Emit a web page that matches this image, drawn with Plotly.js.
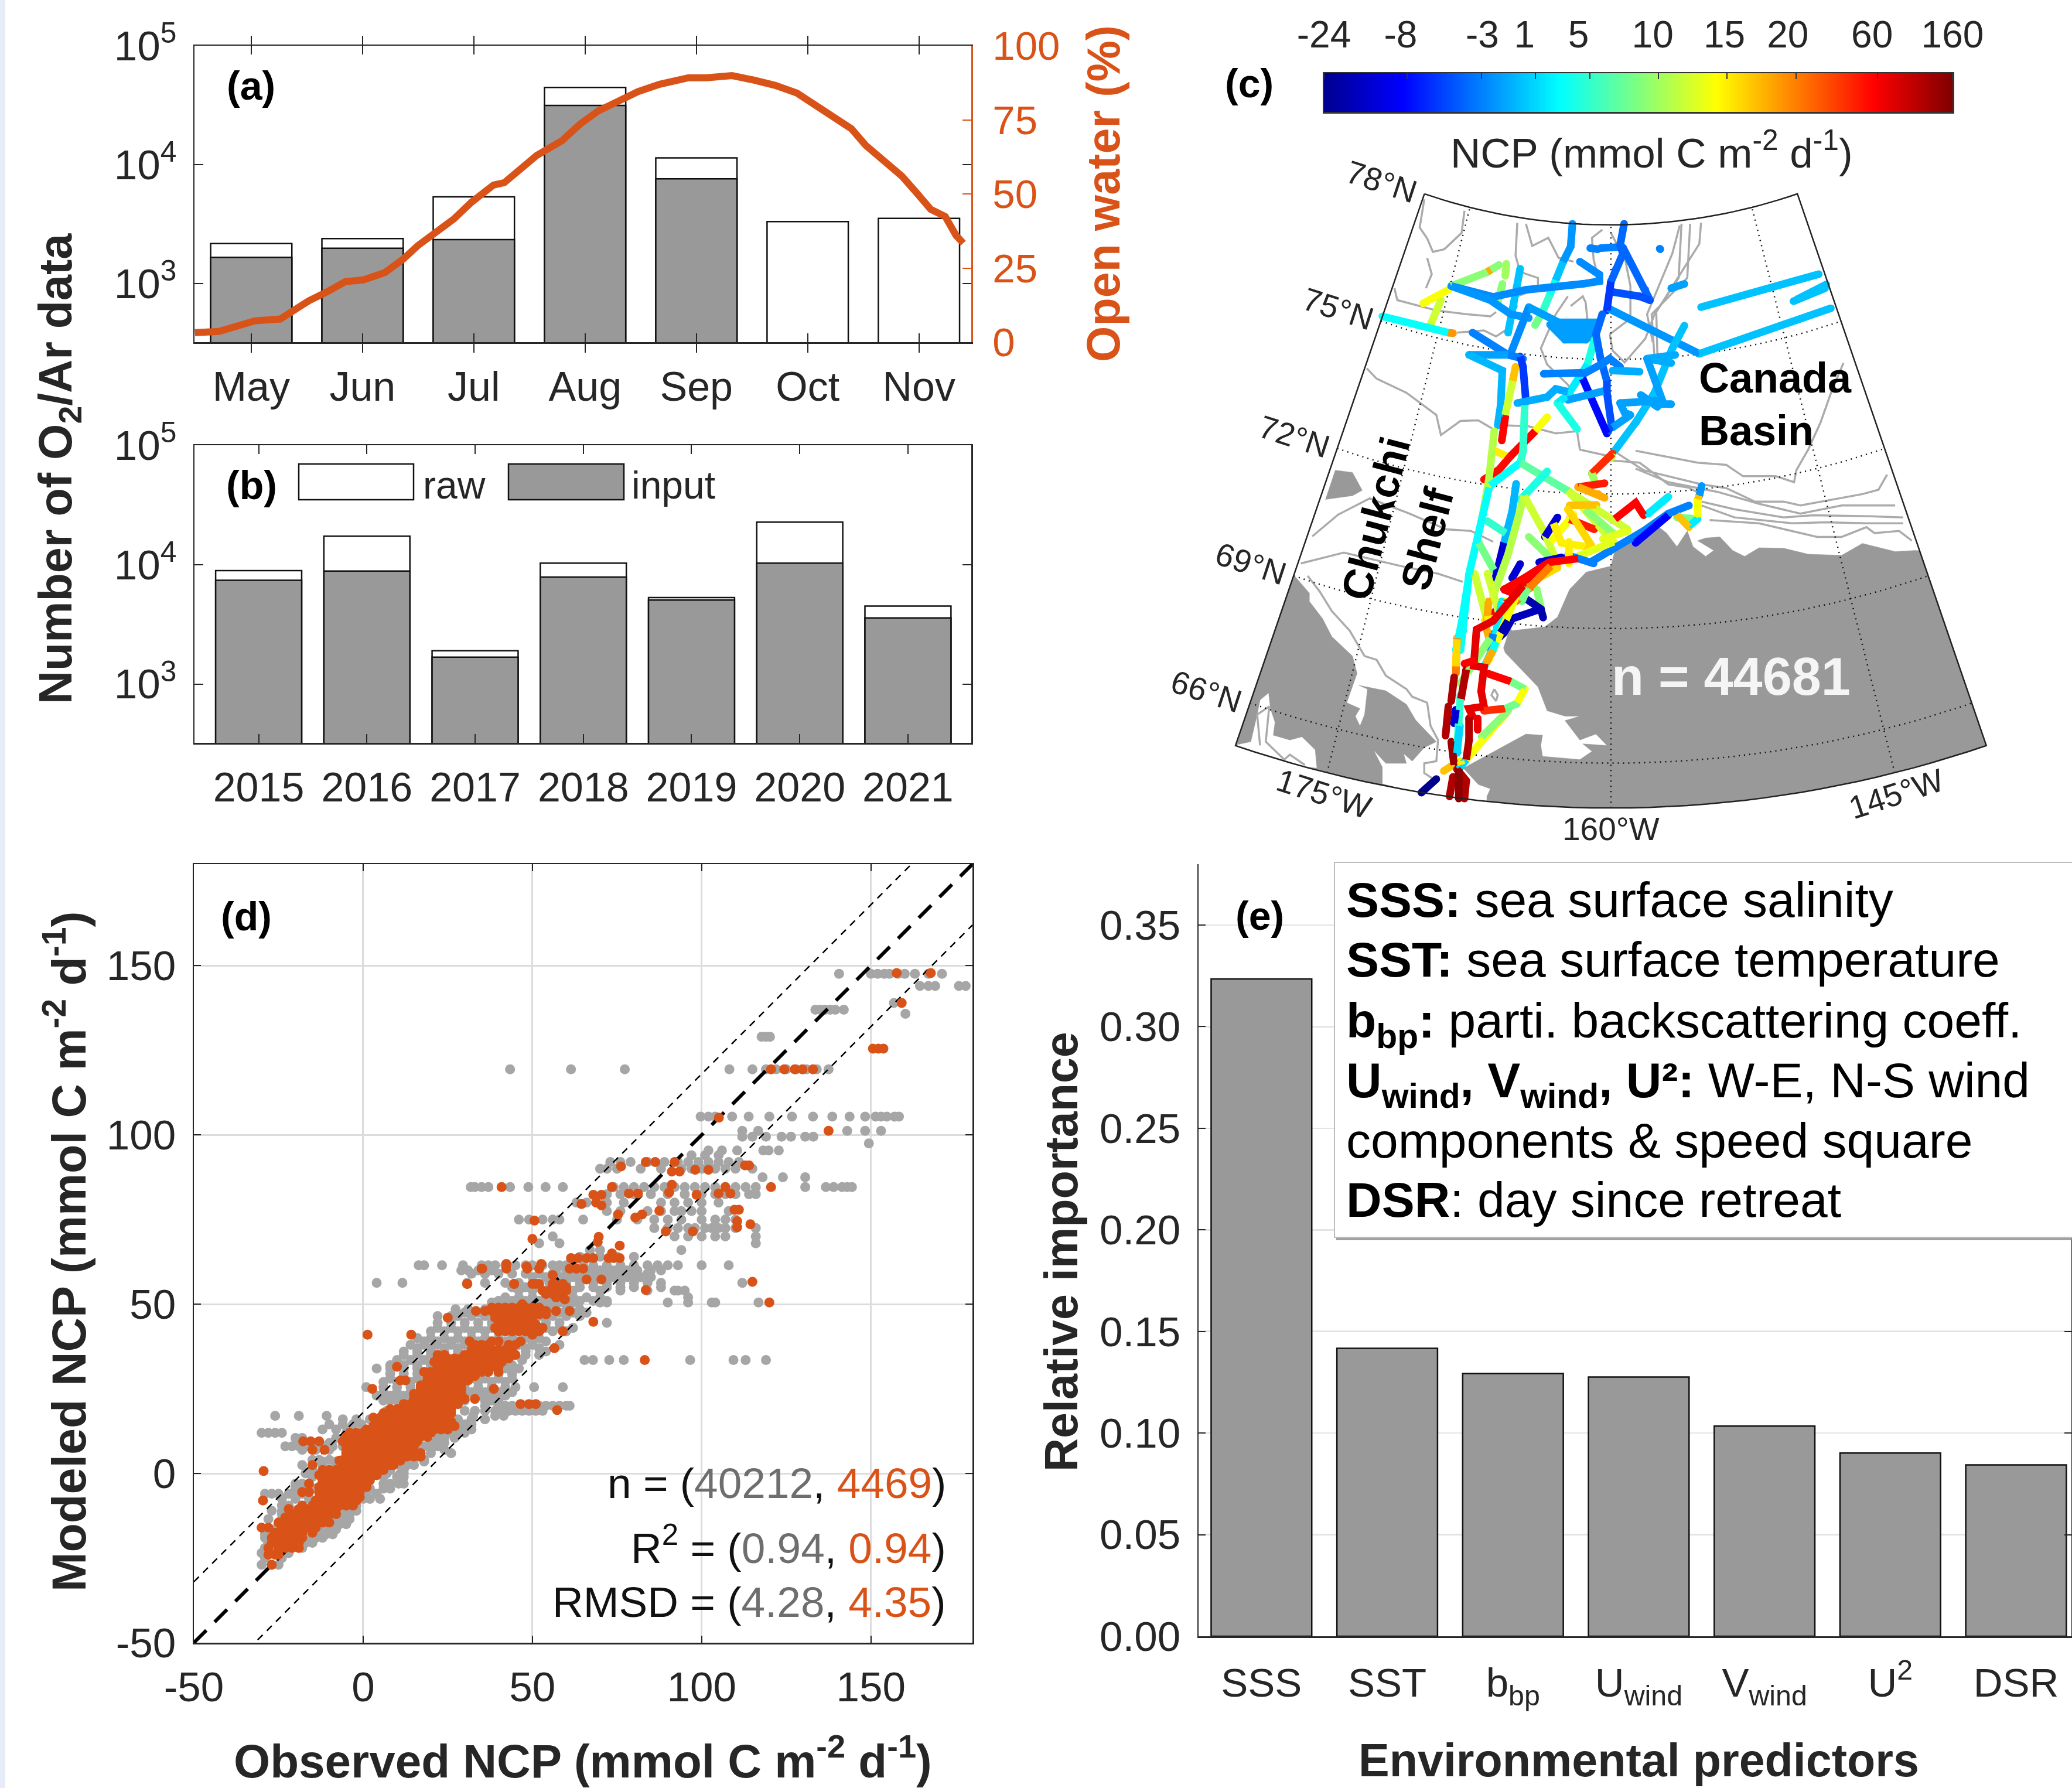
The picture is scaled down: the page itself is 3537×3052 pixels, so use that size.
<!DOCTYPE html>
<html><head><meta charset="utf-8">
<script src="https://cdn.plot.ly/plotly-3.0.1.min.js"></script>
<style>html,body{margin:0;padding:0;background:#fff}</style></head>
<body><div id="chart" style="width:3537px;height:3052px"></div>
<script>
// ---------- panel (a) ----------
const months=['May','Jun','Jul','Aug','Sep','Oct','Nov'];
const monthRaw=[2170,2390,5350,44500,11400,3320,3530];
const monthInput=[1660,1980,2340,31400,7600,null,null];
const openWaterPos=[0.494,0.709,0.871,1.033,1.261,1.39,1.52,1.683,1.845,2.008,2.202,2.365,2.495,2.657,2.819,2.982,3.177,3.274,3.404,3.566,3.794,3.956,4.118,4.281,4.476,4.67,4.93,5.092,5.32,5.515,5.71,5.904,6.067,6.229,6.392,6.521,6.684,6.846,6.976,7.106,7.236,7.333,7.398];
const openWaterPct=[3.2,3.6,5.4,7.2,7.8,11.2,14,17,20.4,21,23.5,28,32.5,37,41.5,47.3,53,53.8,58,63,68,73.6,78,81,84.5,87,89.2,89.2,89.9,88.4,86.6,84,80,76.7,72,66.4,61.4,56,50.5,44.8,42.4,36,33.4];
// ---------- panel (b) ----------
const years=['2015','2016','2017','2018','2019','2020','2021'];
const yearRaw=[8900,17300,1900,10300,5300,22700,4500];
const yearInput=[7400,8830,1680,7870,5050,10300,3580];
// ---------- panel (e) ----------
const predictors=['SSS','SST','b<sub>bp</sub>','U<sub>wind</sub>','V<sub>wind</sub>','U<sup>2</sup>','DSR'];
const importance=[0.3235,0.1417,0.1293,0.1276,0.1034,0.0902,0.0843];
// ---------- panel (d): modeled NCP value, then observed NCP values on that level ----------
const grayRows=[
[147.6,[140.6,150,152,154,155.5,158,160,163,167,171]],[144,[164.5,167,169,176,178]],[139,[156.8]],[135.8,[160.2]],
[137,[133.6,135,136.5,138,139.5,142]],[129,[117.7,119,120.2]],
[119.4,[43.4,61.4,77.3,108.2,115,119,122,125,128,131,134,137.5]],
[105.4,[99.7,102,104,109,113.9,120,126.7,132.9,138.6,143.7,148.3,151.4,153,154.7,157,158.3]],
[101.2,[112,116.7,143,148.3,153]],[99.5,[112,115,119,123.6,126.4,130.6,133]],[97.5,[149.4]],
[95.4,[102,106,110.5,118.2,119.8,122.8]],[94,[97,101,105]],
[92,[73,76,79,84,89,93,96,99,102,105,108,111]],[90,[70,72,75,82,88,94,97,100,104,107,110,115]],
[87.5,[118,124,130.6]],
[84.6,[31.8,33,35,37,43.4,48.8,53.9,59,74,77,80,83,86,89,92,95,98,101,104,107,110,113,116,130.6,136.7,139,141.5,143,144.4]],
[82.5,[72,76,80,85,90,95,100,104,107,110,114,116]],[80,[63,66,72,77,88,92,96,100,105]],
[77.5,[72,76,84,88,92,94,97,100,108]],[75,[46,49,53,56,58,65,75,81,86,90,94,100,104,107,110]],
[72.5,[86,90,93,96,98,101,103,105,107,110,116]],[70,[56,92,96,100,104,107,116]],[68,[52,58,116]],[66,[67,70,94]],
[64,[64,67,70,75,80]],
[61.5,[16.4,18,23.3,29.5,35,37,39,42,45,48,50,53,56,58,60,62,65,68,72,76,80,84,87,90,93,100,108]],
[60,[29,31,34,38,57,60,63,66,70,74,78,81,85,88]],[58,[50,54,58,62,66,70,74,78,82,85]],
[56.3,[4,11.6,30.7,36,42,46,55,60,64,68,72,76,80,84,88,112]],[54,[46,50,54,58,62,70,76,84,92,93,95]],
[52,[42,46,50,54,58,62,66,70,96]],[50.5,[38,42,46,50,54,58,62,70,72,90,96,103,104,116.8]],
[48.5,[27.3,31,36,40,44,48,52,56,60,64]],[46.5,[22,26,28,32,36,40,44,48,52,56,60,64]],
[44.5,[22,26,30,34,38,42,46,50,54,58,72]],[42,[20,24,28,32,36,40,44,48,52,56,60]],
[40,[16,20,24,28,32,36,40,44,48,52]],[38,[14,18,22,26,30,34,38,42,46,50,58]],
[36,[12,16,20,24,28,32,36,40,44,48,54]],
[33.5,[10,14,18,22,26,30,34,38,42,47,65.4,67.9,72.7,77,96.6,109.4,113,119]],
[31,[4,8,12,16,20,24,28,32,36,42,46]],[28,[8,12,16,20,24,28,33,36,40,44]],
[25.5,[0.9,6,10,14,18,24,30,34,38,42,45,50.5,59]],[24,[6,10,14,18,26,32,36,40,44]],
[21.5,[6,8,10,12,14,26,30,36,38,40]],[20,[36,40,42,44,46,48,50,52,54,56,58,60,61]],
[18.5,[7,9,11,30,33,36,39,41,43,45,47,49,51,53]],[17,[-26,-19,-10.8,32.5,39,41.5]],
[14.5,[-10,-6,-3,-0.5,28,30,32]],[12,[-30,-28,-26,-24,-5,-2,26,28,30]],[10.5,[-20,-18,-8,-6,22,24,27]],
[8,[-23,-21,-19,-17,-14,-12,-9,-6,18,20,22]],[6,[20,26]],[4,[-15,-13,-10,-6,15,18]],
[2.5,[-18,-15,-12,-8,11,13,15]],[0,[-17,-15,7,11,12]],[-3,[-20,-18,-10,6,8,10.5,12]],
[-6,[-29,-27,-25,-22,-20,-18,1,4]],[-9.5,[-24,-22,-18,-3,-2]],[-12,[-24,-22,-7,-6,-4]],
[-15,[-25,-23,-21,-18,-11,-8,-7,-5]],[-16.5,[-28,-26,-13,-10,-8]],[-19,[-29,-27,-16,-14,-12]],
[-22,[-29,-24,-18]],[-25,[-29,-24]],[-27,[-30,-27,-25]],
[59,[32,36,40,44,48,52,56,60,64,68,72,76,80,84]],[55,[44,48,52,56,60,64,68,72,76,80,88]],
[51,[40,44,48,52,56,60,64,68,72]],[47.5,[30,34,38,42,46,50,54,58,62,66]],
[43,[22,26,30,34,38,42,46,50,54,58,62]],[39,[18,22,26,30,34,38,42,46,50,54]],
[37,[16,20,24,28,32,36,40,44,48,52]],[35,[12,16,20,24,28,32,36,40,44,48,52]],
[32,[8,12,16,20,24,28,32,36,40,44]],[29.5,[8,12,16,20,24,28,32,36,40,44]],[27,[6,10,14,18,22,26,30,34,38,42]],
[23,[4,8,12,30,34,38,42]],[16,[-6,-2,2,28,32,36]],[13,[-12,-8,-4,24,28,32]],[9,[-14,-10,-6,20,24]],
[7,[-18,-14,-10,16,20,24]],[3.5,[-12,-8,14,18]],[1,[-15,-12,8,12]],[-1,[-15,-12,6,10,12]],
[-4.5,[-20,-16,-14,2,6,8]],[-7.5,[-24,-20,-16,0,2,5]],[-11,[-27,-24,-20,-4,-2]],[-13.5,[-28,-24,-20,-16,-8,-6,-4]],
[-18,[-29,-26,-14,-11,-9]],[-20.5,[-28,-26,-17,-15]],[-23.5,[-30,-27,-22]]
];
const orangeRows=[
[-27,[-27]],[-24,[-28,-26,-25]],[-22,[-28,-25,-23,-21,-19]],[-19,[-27,-25,-23,-21,-19,-18]],
[-16,[-30,-28,-24,-22,-20,-18,-16,-14]],[-13,[-23,-21,-19,-15,-13,-11]],[-10.5,[-22,-19,-16,-14,-12,-10,-8]],
[-8,[-29.6,-14,-12,-10,-8,-6,-4,-2]],[-5.5,[-18,-16,-13,-11,-9,-7,-5,-3,-1]],[-3,[-16,-12,-10,-8,-6,-4,-2,0,1]],
[-0.5,[-13,-11,-9,-7,-5,-3,-1,1,3,4]],[0.7,[-29.4]],[2.5,[-15,-6,-4,-2,0,2,4,6,8,9]],
[5,[-5,-3,-1,1,3,5,7,9,11,13,15,17]],[7,[-15,-11.4,-5,-3,-1,1,3,5,7,9,11,13,15]],
[9.5,[-17.7,-15.5,-13,-6,-4,-2,0,2,4,6,8,10,12,14,16]],[12,[-4,-2,0,2,4,6,8,10,12,14,16,18,20]],
[14,[3,5,7,9,11,13,15,17,19,21,23,25,27]],[16.5,[3,5,7,9,11,13,15,17,19,21,23,25]],
[19,[8,10,12,14,16,18,20,22,24,26]],[22,[15,17,19,21,23,25,27,28,30,33]],[25,[2.7,17,19,21,23,25,27,29,38.6]],
[27.5,[11,12.5,19,21,23,25,27,29,31]],[30,[18,20,23,25,27,29,31,33,35,37,40]],[31.5,[10]],
[33,[21,23,25,27,29,31,33,35,37,39,41]],[35,[22,24,30,32,34,36,38,40,42,44,45]],[37,[44,56.5]],
[39,[31.5,38,40,46.5]],[41,[1.3,14.2,50]],[42,[40,42,44,46,48,50,52,59]],[44,[41,43,45,47,49,51]],
[46,[25,39,41,43,45,47,49]],[48,[33.3,36,38,40,42,44,46,48,50,52,54,57,61]],[50,[47]],[52,[57,59]],
[54,[53,55,58,60]],[56,[30.8,44.6,50,52,56,59,30.7,44.6,51,56.5]],[57.3,[70.4,66]],[58.6,[56]],
[60.5,[35,42.3,48.5,52,61,63,65,35.2]],[61.9,[42.3,52.6]],[61.1,[48.3]],[63.6,[61.4,63.5,66,68,74,75.8,72.5]],
[51.4,[59.6]],[54.2,[83.5]],[56.6,[115]],[50.5,[120]],[44.8,[68]],[33.5,[83.2]],[18.7,[57.3]],[20.5,[46.5,49,51]],
[65,[73.5]],[67.3,[75.8]],[68.4,[69.3]],[69.9,[69.6]],[69.3,[50]],[71.5,[97.4,89.4]],[74.7,[50.6]],
[72.7,[110.5]],[73.6,[114.4]],[74.5,[110.5]],[77.9,[109.7,111]],[77.6,[87.5]],[76.5,[75.3,82.4]],[75.6,[80.4]],
[79.6,[64.5]],[79.2,[70.4]],[80,[68.8]],[82.3,[68,70.4,98.5]],[82.7,[78.5,81.2,105,108.5]],[83,[90.4]],
[84.6,[40.9,73.5,107,120.5]],[85.3,[91.2]],[89.2,[91.2,93.5]],[89.7,[98.1,102]],[90.7,[76.2]],[91,[112.8,114]],
[92,[83.5,86.3,92]],[101.2,[137.5]],[105.1,[105.1]],[119.4,[120.5,124.4,127.5,129.8,132.9]],
[125.5,[150.6,152.2,153.7]],[139,[159.1]],[147.8,[157.6,167.7]],
[-20.5,[-27,-25,-23,-21,-19]],[-17.5,[-26,-24,-22,-20,-18,-15]],[-14.5,[-25,-23,-21,-19,-17,-14,-12,-10]],
[-12,[-20,-18,-16,-14,-12,-10,-8]],[-9.5,[-18,-15,-13,-11,-9,-7,-5,-3]],[-7,[-13,-11,-9,-7,-5,-3,-1]],
[-4,[-13,-11,-9,-7,-5,-3,-1,1]],[-2,[-12,-10,-8,-6,-4,-2,0,2]],[1,[-12,-10,-8,-6,-4,-2,0,2,4,6]],
[3.8,[-7,-5,-3,-1,1,3,5,7,9,11]],[6,[-5,-3,-1,1,3,5,7,9,11,13,15,17]],[8.2,[-5,-3,-1,1,3,5,7,9,11,13,15]],
[10.8,[-5,-3,-1,1,3,5,7,9,11,13,15,17,19]],[13,[1,3,5,7,9,11,13,15,17,19,21,23,25]],
[15.3,[4,6,8,10,12,14,16,18,20,22,24,26]],[17.8,[6,8,10,12,14,16,18,20,22,24,26]],
[20.5,[12,14,16,18,20,22,24,26,28]],[23.5,[15,17,19,21,23,25,27,29]],[26,[17,19,21,23,25,27,29]],
[28.8,[19,21,23,25,27,29,31,33]],[31.5,[22,24,26,28,30,32,34,36,38,40]],[34,[23,25,27,29,31,33,35,37,39,41,43]],
[36.5,[32,34,36,38,40,42,44]],[38,[33,35,37,43,45]],[43,[39,41,43,45,47,49,51,53]],[45,[40,42,44,46,48,50]],
[47,[40,42,44,46,48,50,52,54]],[49,[38,40,42,44,46,48,50,52]],[53,[54,56,58]],[55,[56,58,60]]
];
const statRows=[['n = (','40212','4469',')'],['R<sup>2</sup> = (','0.94','0.94',')'],['RMSD = (','4.28','4.35',')']];
const axisTicksD=[-50,0,50,100,150];
const axisTextD=['-50','0','50','100','150'];
// ---------- panel (c): colour bar ----------
const ncpTicks=[-24,-8,-3,1,5,10,15,20,60,160];
const ncpTickFrac=[0,0.132,0.251,0.336,0.423,0.532,0.641,0.751,0.881,1];
const ncpLabelFrac=[0,0.122,0.252,0.319,0.405,0.523,0.637,0.738,0.872,1];
// Map plane coordinates (units of the map axes).
const alaskaCoast=[1296,1016,1260,1018,1203,1003,1167,1025,1109,1023,1066,1012,1023,1011,998,1027,977,1016,955,991,930,993,916,998,944,1016,930,1027,908,1009,898,980,880,1009,862,984,844,969,830,987,772,1016,765,1045,722,1056,693,1088,672,1139,650,1157,593,1164,589,1160,578,1196,581,1205,638,1268,654,1312,685,1322,711,1322,685,1330,711,1366,739,1355,758,1376,716,1373,732,1387,711,1402,646,1396,643,1376,646,1357,617,1355,586,1373,550,1394,508,1418,534,1448,555,1456,549,1470];
const siberiaCoast=[112,1375,138,1369,149,1319,154,1292,169,1279,172,1308,180,1333,177,1357,206,1366,227,1360,250,1384,253,1418];
const siberiaCoast2=[367,1447,367,1416,352,1385,373,1409,409,1409,404,1391,419,1405,440,1380,461,1369,425,1329,409,1300,373,1275,326,1265,341,1272,336,1319,328,1340,320,1322,328,1308,305,1297,308,1288,323,1243,315,1211,279,1175,263,1142,240,1110,240,1095,214,1063];
const wrangel=[268,922,285,868,315,872,332,905,315,915,268,922];
const isobaths=[
[440,368,432,420,445,440,455,465,475,460,505,430,510,389],[445,476,453,506,443,532],
[388,532,393,554,461,573,513,580,555,584,565,576],[497,614,544,610,565,621,581,610],
[602,411,599,472,607,502,638,513,638,532,602,547],[617,413,628,454,656,439,674,476,700,483],
[690,547,674,573,669,580,643,643,654,673,690,710,700,730],[695,565,716,547,721,558,725,600],
[750,424,732,439,735,480,745,520],[763,617,799,588,799,528,790,480,765,430],
[763,617,768,647,789,669,825,625,841,580,883,513,888,413],[841,662,836,580,898,513,903,413],
[846,655,844,576,919,450,922,411],[838,632,828,580,872,468,885,416],
[765,829,822,868,923,894,966,901,1016,926,1066,926,1095,933,1203,912,1231,904,1246,876],
[808,832,916,854,966,858,995,879,1052,879,1084,890,1088,868,1109,829,1130,780,1150,720,1170,670],
[765,850,815,854,865,894,900,900,925,914],[808,865,865,890,951,908,1023,930,1095,948,1167,933,1260,933],
[923,926,980,940,1066,955,1117,951,1217,953,1274,955],[923,933,980,955,1081,966,1138,964,1210,966,1274,966],
[937,960,1023,966,1124,991,1167,991,1210,973,1224,984,1267,980,1289,998],
[340,680,357,699,409,725,461,766,469,803,503,777,534,776,560,792,581,785,622,787,669,800,706,796,711,830,758,841],
[245,990,290,950,345,920,414,948,478,977,521,980,560,1000],[225,1040,300,1020,400,1045,464,1059,507,1074],
[237,1063,258,1092,279,1128,310,1164,336,1211,357,1218,373,1247,409,1272,419,1286,445,1297,451,1340,464,1366,461,1405,440,1409,440,1427,456,1438],
[154,1376,149,1319,170,1304,164,1369,196,1402,206,1393,232,1412],[562,1272,557,1283,565,1294,568,1283,562,1272]
];
// each track: NCP value, then map-plane x,y vertices
const tracks=[
[8,646,576,633,600],[5,659,543,646,576],[3,669,517,659,543],[0,682,483,669,517],[-2,698,413,695,455,682,483],
[-3,729,458,742,460],[-3,747,458,778,456],[-3,850,459,851,460],
[-4,786,457,825,535,833,554],[-5,768,539,815,547,833,554],
[9,570,489,550,502,487,528],[18,556,498,550,502],[10,583,487,581,509],[9,576,524,568,558],
[14,482,535,438,560],[12,469,554,451,599],[3,367,584,482,614],[19,482,614,490,615],
[0,607,496,596,565,586,614],
[-2.5,711,483,745,507,745,519,716,524,617,535,560,548,487,528],
[-2,487,528,555,554,591,580,622,587],[-2.5,622,567,591,651],
[-1.6,622,567,674,595,742,595,721,627,685,627,659,599],[-1.6,674,600,740,602,678,610,735,612,682,620,725,624],
[-2,760,569,919,653],[0,919,653,1148,569],[0,922,567,1127,506],[0,1083,556,1138,532],[0,1090,552,1140,525],[-1.5,870,532,893,524],
[-4,788,413,781,453,786,468,773,498,765,520],[-6,765,520,758,573],
[4,737,625,724,673],[2,724,673,690,729,672,744],[4,672,744,706,792],
[-4,750,580,739,617,747,662,758,703],[-5,758,703,758,725,766,785,758,800],
[-3,648,690,721,688,747,673,763,662,781,677],[-1,768,684,815,686],
[-3,524,614,586,655,612,662],[-1.5,518,655,586,655],[-0.5,518,655,576,684,573,748,568,785],
[-8,716,699,758,800],[-6,607,658,612,677,617,740],[17,599,677,594,703],[12,594,703,581,766],[58,581,770,575,813],
[-1,602,744,654,733,669,718,690,723],[-1.5,690,738,752,722],
[0,893,601,872,643,841,725,810,777,773,830],[-1,877,655,828,662,870,670],[-1.5,828,662,857,746,870,746],
[-1.5,817,729,846,751],[-1.5,781,744,844,740],[-1.5,781,744,789,762,799,766,768,789],
[14,654,770,633,796],[58,633,796,591,841],[55,591,841,570,867,544,885],[15,565,833,581,841],
[11,562,796,557,841,552,889,540,960],[5,615,748,612,833,607,856],[3,607,854,555,896],
[7,607,854,693,908],[12,693,908,794,977],[4,654,870,607,923],
[3,553,900,540,960,520,1050,505,1150,495,1200],[-0.5,600,893,593,944,579,1002],[-15,579,1002,564,1067],
[11,768,837,766,845],[45,768,837,732,874],[10,732,874,737,889],
[11,614,915,586,1023,560,1100],[12,614,915,650,985,672,1040],[9,622,991,657,1027],[5,550,962,582,984],[8,535,1002,561,1052],
[12,690,905,760,990],[14,660,1000,700,950],[9,720,940,770,985],
[50,708,899,754,892],[18,708,899,743,912,754,919],[17,693,933,740,932],[50,693,958,736,977],[58,772,958,808,928,822,951],
[-15,650,991,672,955],[15,665,966,679,1002,722,1009],[13,751,995,794,980],[16,690,940,730,1005,722,1020],
[2,865,917,830,948],[-3,729,1038,765,1016,822,980,865,948,901,933],[-9,808,1002,865,951],
[8,880,955,916,958],[17,901,973,880,950],[-2,923,897,919,915],[17,919,915,916,922],[14,916,922,916,955],[2,916,958,905,968],
[13,770,1000,700,1030],[-3,690,1025,735,1040],[-15,640,1038,679,1029],[-15,607,1041,593,1067],
[16,672,1048,622,1077],[15,692,1000,692,1040],[9,636,1088,643,1121],
[-20,579,1088,614,1103,643,1124,647,1140],[-18,643,1124,593,1142,579,1168,571,1176],
[58,708,1031,657,1038,614,1067,579,1088,607,1099,571,1121,553,1139],[58,655,1040,610,1075,590,1090,625,1065],[20,660,1045,625,1085,600,1110],
[3,518,1059,508,1164,503,1200],[12,550,1059,565,1110,575,1150],[14,580,1110,552,1220],
[12,528,1059,548,1140],[18,552,1110,548,1160,553,1178],[15,545,1145,570,1140],[2,575,1110,560,1195,545,1230],[14,600,1100,570,1170,560,1200],[8,620,1085,610,1110],[-3,560,1170,555,1200],
[9,555,1178,503,1261],[3,565,1185,555,1210],[18,560,1200,547,1225],[-20,586,1146,573,1168],
[5,503,1283,497,1384],[20,497,1178,495,1243],[16,497,1180,495,1230],[14,513,1402,586,1312],[9,540,1360,586,1312],[1,513,1402,500,1420],
[75,612,1081,586,1113,560,1146,531,1162,529,1204,526,1229,544,1232,539,1276,544,1304,518,1308,524,1322],[58,510,1225,530,1218],
[120,492,1250,487,1294],[120,482,1304,477,1358],[140,487,1369,492,1412],[58,550,1243,591,1258],[8,591,1258,615,1272],
[14,615,1272,602,1297],[8,602,1297,600,1300],[45,544,1312,581,1308],[8,581,1308,598,1300],
[70,533,1326,533,1347],[120,518,1326,518,1366,513,1402],[120,513,1236,504,1290],[-15,495,1310,492,1335],[1,502,1340,497,1390],
[15,503,1405,505,1412],[17,487,1414,474,1423],[-24,461,1438,435,1463],
[120,497,1420,513,1441,510,1474],[120,490,1434,484,1470],[150,500,1420,500,1474]
];
// ---------- helpers ----------
const W=3537,H=3052;
const px=x=>x/W, py=y=>1-y/H;
const BLACK='#262626', ORANGE='#D95319', GREY='#999999', FONT='Liberation Sans, Arial, sans-serif';
const jetStops=[[0,[0,0,143]],[0.125,[0,0,255]],[0.375,[0,255,255]],[0.625,[255,255,0]],[0.875,[255,0,0]],[1,[128,0,0]]];
const jetScale=jetStops.map(s=>[s[0],`rgb(${s[1].join(',')})`]);
function ncpFrac(v){
  for(let i=1;i<ncpTicks.length;i++) if(v<=ncpTicks[i]){
    const a=ncpTicks[i-1],b=ncpTicks[i];
    return ncpTickFrac[i-1]+(Math.max(v,a)-a)/(b-a)*(ncpTickFrac[i]-ncpTickFrac[i-1]);
  }
  return 1;
}
function jet(t){
  for(let i=1;i<jetStops.length;i++) if(t<=jetStops[i][0]){
    const [a,ca]=jetStops[i-1],[b,cb]=jetStops[i],f=(t-a)/(b-a);
    return `rgb(${ca.map((c,k)=>Math.round(c+(cb[k]-c)*f)).join(',')})`;
  }
  return 'rgb(128,0,0)';
}
// conic projection onto the map plane
function project(lon,lat){
  const r=983+(78-lat)*76.6, th=0.945*(lon+160)*Math.PI/180;
  return [(750+r*Math.sin(th))*1.02, (-599+r*Math.cos(th))*1.081];
}
function curve(fn,a,b,n){const xs=[],ys=[];for(let i=0;i<=n;i++){const p=fn(a+(b-a)*i/n);xs.push(p[0]);ys.push(p[1]);}return [xs,ys];}
const evens=a=>a.filter((_,i)=>i%2===0), odds=a=>a.filter((_,i)=>i%2===1);
const flat=(rows,k)=>rows.flatMap(r=>r[1].map(x=>k==='x'?x:r[0]));

const traces=[];
// (a)
traces.push({type:'bar',x:[1,2,3,4,5,6,7],y:monthRaw,width:0.73,marker:{color:'#fff',line:{color:'#111',width:2.5}},xaxis:'x',yaxis:'y',hoverinfo:'skip'});
traces.push({type:'bar',x:[1,2,3,4,5,6,7],y:monthInput,width:0.73,marker:{color:GREY,line:{color:'#111',width:2.5}},xaxis:'x',yaxis:'y',hoverinfo:'skip'});
traces.push({type:'scatter',mode:'lines',x:openWaterPos,y:openWaterPct,line:{color:ORANGE,width:12},xaxis:'x',yaxis:'y2',hoverinfo:'skip'});
// (b)
traces.push({type:'bar',x:[1,2,3,4,5,6,7],y:yearRaw,width:0.795,marker:{color:'#fff',line:{color:'#111',width:2.5}},xaxis:'x3',yaxis:'y3',hoverinfo:'skip'});
traces.push({type:'bar',x:[1,2,3,4,5,6,7],y:yearInput,width:0.795,marker:{color:GREY,line:{color:'#111',width:2.5}},xaxis:'x3',yaxis:'y3',hoverinfo:'skip'});
// (d)
const refLines=[[0,6,'30px,20px'],[18,2.5,'12px,10px'],[-18,2.5,'12px,10px']];
traces.push({type:'scatter',mode:'markers',x:flat(grayRows,'x'),y:flat(grayRows,'y'),marker:{color:'#A6A6A6',size:17},xaxis:'x4',yaxis:'y4',hoverinfo:'skip'});
refLines.forEach(l=>traces.push({type:'scatter',mode:'lines',x:[-50,180],y:[-50+l[0],180+l[0]],line:{color:'#000',width:l[1],dash:l[2]},xaxis:'x4',yaxis:'y4',hoverinfo:'skip'}));
traces.push({type:'scatter',mode:'markers',x:flat(orangeRows,'x'),y:flat(orangeRows,'y'),marker:{color:ORANGE,size:17},xaxis:'x4',yaxis:'y4',hoverinfo:'skip'});
// (e)
traces.push({type:'bar',x:[1,2,3,4,5,6,7],y:importance,width:0.8,marker:{color:GREY,line:{color:'#111',width:2.5}},xaxis:'x5',yaxis:'y5',hoverinfo:'skip'});
// (c) land
const poly=(xs,ys,fill)=>traces.push({type:'scatter',mode:'lines',x:xs,y:ys,fill:'toself',fillcolor:fill,line:{color:fill,width:0.5},xaxis:'x6',yaxis:'y6',hoverinfo:'skip'});
{
  const [bx,by]=curve(l=>project(l,65),-166.5,-140,40),[rx,ry]=curve(l=>project(-140,l),65,69.6,10);
  poly(evens(alaskaCoast).concat(bx,rx),odds(alaskaCoast).concat(by,ry),GREY);
  const [b2x,b2y]=curve(l=>project(l,65),-176.3,-171,12),[lx,ly]=curve(l=>project(-180,l),69.1,65,10);
  poly(lx.concat(evens(siberiaCoast),b2x,evens(siberiaCoast2)),ly.concat(odds(siberiaCoast),b2y,odds(siberiaCoast2)),GREY);
  poly(evens(wrangel),odds(wrangel),GREY);
}
isobaths.forEach(b=>traces.push({type:'scatter',mode:'lines',x:evens(b),y:odds(b),line:{color:'#ABABAB',width:3.5},xaxis:'x6',yaxis:'y6',hoverinfo:'skip'}));
// graticule
[-175,-160,-145].forEach(lon=>{const [x,y]=curve(l=>project(lon,l),65,78,20);traces.push({type:'scatter',mode:'lines',x,y,line:{color:'#111',width:2.5,dash:'2px,7px'},xaxis:'x6',yaxis:'y6',hoverinfo:'skip'});});
[66,69,72,75].forEach(lat=>{const [x,y]=curve(l=>project(l,lat),-180,-140,60);traces.push({type:'scatter',mode:'lines',x,y,line:{color:'#111',width:2.5,dash:'2px,7px'},xaxis:'x6',yaxis:'y6',hoverinfo:'skip'});});
// colour-bar ramp
{
  const ramp=[];for(let i=0;i<256;i++)ramp.push((i+0.5)/256);
  traces.push({type:'heatmap',x:ramp,y:[0.5],z:[ramp],zmin:0,zmax:1,colorscale:jetScale,showscale:false,xaxis:'x7',yaxis:'y7',hoverinfo:'skip'});
}
// track vertices
const vx=[],vy=[],vc=[];
tracks.forEach(t=>{for(let i=1;i<t.length;i+=2){vx.push(t[i]);vy.push(t[i+1]);vc.push(ncpFrac(t[0]));}});
traces.push({type:'scatter',mode:'markers',x:vx,y:vy,xaxis:'x6',yaxis:'y6',hoverinfo:'skip',marker:{size:13,color:vc,cmin:0,cmax:1,colorscale:jetScale,showscale:false}});
tracks.forEach(t=>{const pts=t.slice(1);traces.push({type:'scatter',mode:'lines',x:evens(pts),y:odds(pts),line:{color:jet(ncpFrac(t[0])),width:13},xaxis:'x6',yaxis:'y6',hoverinfo:'skip'});});
// frame
{
  const t=curve(l=>project(l,78),-180,-140,40),r=curve(l=>project(-140,l),78,65,4),b=curve(l=>project(l,65),-140,-180,40),lf=curve(l=>project(-180,l),65,78,4);
  traces.push({type:'scatter',mode:'lines',x:[...t[0],...r[0],...b[0],...lf[0]],y:[...t[1],...r[1],...b[1],...lf[1]],line:{color:'#222',width:2.5},xaxis:'x6',yaxis:'y6',hoverinfo:'skip'});
}
// ---------- layout ----------
const tf=(s,c)=>({family:FONT,size:s,color:c||BLACK});
const logAxis=(top,bot)=>({domain:[py(bot),py(top)],type:'log',range:[2.507,5],tickmode:'array',tickvals:[1000,10000,100000],ticktext:['10<sup>3</sup>','10<sup>4</sup>','10<sup>5</sup>'],
  ticks:'inside',ticklen:15,tickwidth:2,tickcolor:BLACK,showline:true,linecolor:BLACK,linewidth:2.5,mirror:'allticks',showgrid:false,zeroline:false,tickfont:tf(71),ticklabelstandoff:14,layer:'above traces'});
const catAxis=(lo,hi,vals,text,anchor)=>({domain:[px(lo[0]),px(lo[1])],range:hi,anchor,tickmode:'array',tickvals:vals,ticktext:text,ticks:'inside',ticklen:15,tickwidth:2,tickcolor:BLACK,
  showline:true,linecolor:BLACK,linewidth:2.5,mirror:'allticks',showgrid:false,zeroline:false,tickfont:tf(70),ticklabelstandoff:13});
const layout={width:W,height:H,margin:{l:0,r:0,t:0,b:0},paper_bgcolor:'#fff',plot_bgcolor:'rgba(0,0,0,0)',showlegend:false,barmode:'overlay',autosize:false,
 font:{family:FONT,color:BLACK},
 xaxis:catAxis([332,1658],[0.49,7.47],[1,2,3,4,5,6,7],months,'y'),
 yaxis:Object.assign(logAxis(78,584),{anchor:'x'}),
 yaxis2:{domain:[py(584),py(78)],overlaying:'y',side:'right',anchor:'x',range:[0,100],tickmode:'array',tickvals:[0,25,50,75,100],ticks:'inside',ticklen:15,tickwidth:2,tickcolor:ORANGE,showline:true,linecolor:ORANGE,linewidth:2.5,showgrid:false,zeroline:false,tickfont:tf(69,ORANGE),ticklabelstandoff:20},
 xaxis3:catAxis([332,1658],[0.407,7.585],[1,2,3,4,5,6,7],years,'y3'),
 yaxis3:Object.assign(logAxis(760,1268),{anchor:'x3'}),
 xaxis4:{domain:[px(331),px(1660)],range:[-50,180],anchor:'y4',tickmode:'array',tickvals:axisTicksD,ticktext:axisTextD,ticks:'inside',ticklen:12,tickwidth:2,tickcolor:BLACK,showline:true,linecolor:BLACK,linewidth:2.5,mirror:'ticks',gridcolor:'#DCDCDC',gridwidth:3,zeroline:false,tickfont:tf(71),ticklabelstandoff:12},
 yaxis4:{domain:[py(2804),py(1475)],range:[-50,180],anchor:'x4',tickmode:'array',tickvals:axisTicksD,ticktext:axisTextD,ticks:'inside',ticklen:12,tickwidth:2,tickcolor:BLACK,showline:true,linecolor:BLACK,linewidth:2.5,mirror:'ticks',gridcolor:'#DCDCDC',gridwidth:3,zeroline:false,tickfont:tf(71),ticklabelstandoff:14},
 xaxis5:{domain:[px(2046),px(3536)],range:[0.5,7.44],anchor:'y5',tickmode:'array',tickvals:[1,2,3,4,5,6,7],ticktext:predictors,ticks:'',showline:true,linecolor:BLACK,linewidth:2.5,showgrid:false,zeroline:false,tickfont:tf(69),ticklabelstandoff:18},
 yaxis5:{domain:[py(2793),py(1475)],range:[0,0.38],anchor:'x5',tickmode:'array',tickvals:[0,0.05,0.1,0.15,0.2,0.25,0.3,0.35],tickformat:'.2f',ticks:'inside',ticklen:12,tickwidth:2,tickcolor:BLACK,showline:true,linecolor:BLACK,linewidth:2.5,mirror:'ticks',gridcolor:'#E4E4E4',gridwidth:2.5,zeroline:false,tickfont:tf(71),ticklabelstandoff:14},
 xaxis6:{domain:[px(2000),1],range:[0,1568],anchor:'y6',visible:false,fixedrange:true},
 yaxis6:{domain:[py(1450),1],range:[1568,0],anchor:'x6',visible:false,fixedrange:true},
 xaxis7:{domain:[px(2260),px(3333)],range:[0,1],anchor:'y7',side:'top',tickmode:'array',tickvals:ncpLabelFrac,ticktext:ncpTicks.map(String),ticks:'',
   minor:{tickmode:'array',tickvals:ncpTickFrac,ticks:'inside',ticklen:10,tickwidth:2,tickcolor:'#333',showgrid:false},
   showline:true,linecolor:'#333',linewidth:2.5,mirror:true,showgrid:false,zeroline:false,tickfont:tf(64),ticklabelstandoff:16,layer:'above traces'},
 yaxis7:{domain:[py(191),py(125)],range:[0,1],anchor:'x7',showticklabels:false,ticks:'',showline:true,linecolor:'#333',linewidth:2.5,mirror:true,showgrid:false,zeroline:false},
 shapes:[
  {type:'rect',xref:'paper',yref:'paper',x0:0,x1:px(9),y0:0,y1:1,fillcolor:'#E6EDF8',line:{width:0},layer:'below'},
  {type:'rect',xref:'paper',yref:'paper',x0:px(510),x1:px(706),y0:py(853),y1:py(792),fillcolor:'#fff',line:{color:'#111',width:2.5},layer:'above'},
  {type:'rect',xref:'paper',yref:'paper',x0:px(868),x1:px(1065),y0:py(853),y1:py(792),fillcolor:GREY,line:{color:'#111',width:2.5},layer:'above'},
  {type:'rect',xref:'paper',yref:'paper',x0:px(2281),x1:px(3560),y0:py(2117),y1:py(1476),fillcolor:'#8a8a8a',line:{width:0},layer:'above',opacity:0.8},
  {type:'rect',xref:'paper',yref:'paper',x0:px(2278),x1:px(3560),y0:py(2112),y1:py(1472),fillcolor:'#fff',line:{color:'#BDBDBD',width:2},layer:'above'}
 ],
 annotations:[]
};
function note(text,x,y,o){layout.annotations.push(Object.assign({text,xref:'paper',yref:'paper',x:px(x),y:py(y),showarrow:false,xanchor:'center',yanchor:'middle',font:tf(65)},o||{}));}
['(a)',428,146,'(b)',429,828,'(c)',2132,142,'(d)',420,1564,'(e)',2150,1563].forEach((v,i,a)=>{if(i%3===0)note(`<b>${v}</b>`,a[i+1],a[i+2],{font:tf(68,'#000')});});
note('<b>Number of O<sub>2</sub>/Ar data</b>',100,800,{textangle:-90,font:tf(79)});
note('<b>Open water (%)</b>',1884,331,{textangle:-90,font:tf(79,ORANGE)});
note('raw',720,828,{xanchor:'left',font:tf(66)});
note('input',1076,828,{xanchor:'left',font:tf(66)});
note('NCP (mmol C m<sup>-2</sup> d<sup>-1</sup>)',2819,256,{font:tf(71)});
['78°N',2358,310,'75°N',2284,527,'72°N',2209,745,'69°N',2135,962,'66°N',2059,1180].forEach((v,i,a)=>{if(i%3===0)note(v,a[i+1],a[i+2],{textangle:18,font:tf(55)});});
note('175°W',2260,1355,{textangle:18,font:tf(55)});
note('160°W',2750,1415,{font:tf(55)});
note('145°W',3237,1355,{textangle:-18,font:tf(55)});
note('<b>Canada</b>',2898,645,{xanchor:'left',font:tf(72,'#000')});
note('<b>Basin</b>',2898,735,{xanchor:'left',font:tf(72,'#000')});
note('<b>Chukchi</b>',2348,885,{textangle:-75.5,font:tf(72,'#000')});
note('<b>Shelf</b>',2436,920,{textangle:-75.5,font:tf(72,'#000')});
note('<b>n = 44681</b>',2955,1155,{font:tf(90,'#F5F5F5')});
const G='#6E6E6E';
statRows.forEach((r,i)=>note(`${r[0]}<span style="color:${G}">${r[1]}</span>, <span style="color:${ORANGE}">${r[2]}</span>${r[3]}`,1617,[2531,2637,2734][i],{xanchor:'right',font:tf(73,'#111')}));
note('<b>Observed NCP (mmol C m<sup>-2</sup> d<sup>-1</sup>)</b>',995,3000,{font:tf(80)});
note('<b>Modeled NCP (mmol C m<sup>-2</sup> d<sup>-1</sup>)</b>',112,2137,{textangle:-90,font:tf(81)});
note('<b>Relative importance</b>',1811,2137,{textangle:-90,font:tf(79)});
note('<b>Environmental predictors</b>',2797,3004,{font:tf(79)});
[['<b>SSS:</b> sea surface salinity',1536],['<b>SST:</b> sea surface temperature',1638],['<b>b<sub>bp</sub>:</b> parti. backscattering coeff.',1748],
 ['<b>U<sub>wind</sub>, V<sub>wind</sub>, U²:</b> W-E, N-S wind',1850],['components &amp; speed square',1947],['<b>DSR</b>: day since retreat',2048]]
 .forEach(l=>note(l[0],2296,l[1],{xanchor:'left',font:tf(84,'#000')}));
Plotly.newPlot('chart',traces,layout,{displayModeBar:false,staticPlot:true});
</script></body></html>
